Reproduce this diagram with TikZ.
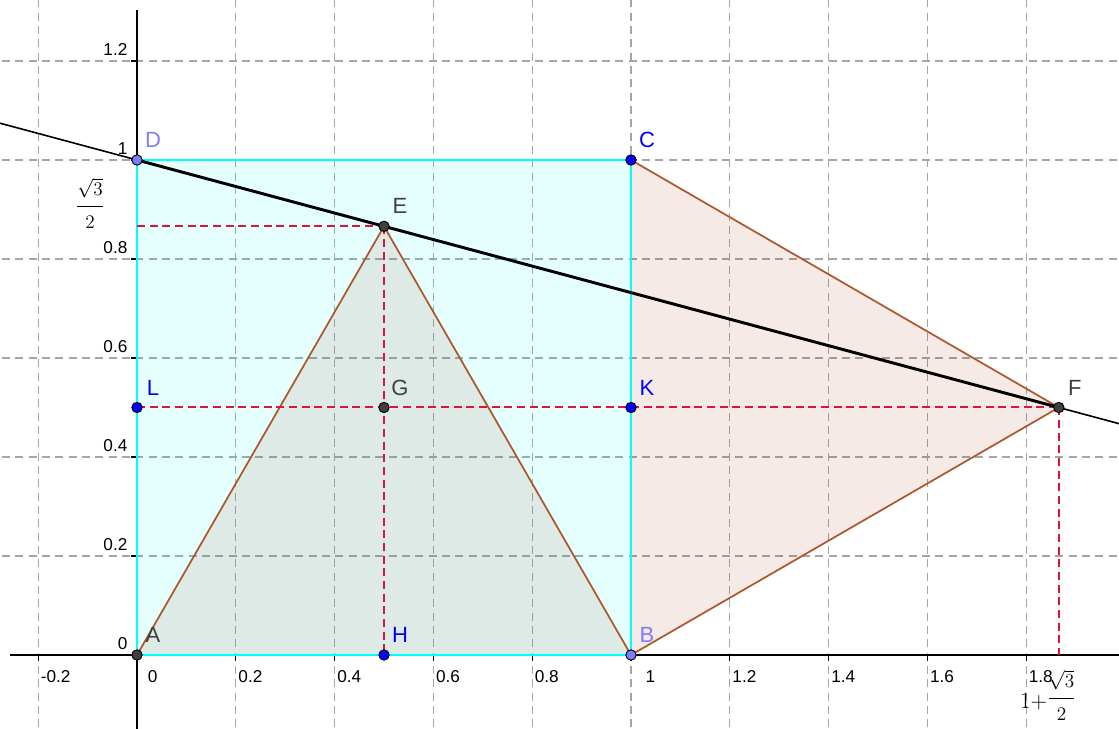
\documentclass[tikz,border=0pt]{standalone}
\usepackage{amsmath}
\usepackage{amssymb}
\usepackage{fontspec}
\setsansfont{Liberation Sans}
\usepackage{xcolor}
\usepackage{tikz}
\definecolor{ggcyan}{RGB}{0,255,255}
\definecolor{ggbrown}{RGB}{153,51,0}
\definecolor{ggedge}{RGB}{172,88,42}
\definecolor{ggred}{RGB}{220,20,60}
\definecolor{gggrid}{RGB}{165,165,165}
\definecolor{ggblue}{RGB}{0,0,255}
\definecolor{gglight}{RGB}{125,125,255}
\definecolor{ggdark}{RGB}{64,64,64}
\tikzstyle{gridline} = [draw=gggrid, line width=0.9pt, dash pattern=on 6pt off 4pt]
\tikzstyle{axisline} = [draw=black, line width=1.3pt]
\tikzstyle{redline} = [draw=ggred, line width=1.5pt, dash pattern=on 6pt off 3.5pt]
\tikzstyle{brownedge} = [draw=ggedge, line width=1.3pt]
\tikzstyle{cyanedge} = [draw=ggcyan, line width=1.4pt]
\tikzstyle{ticklab} = [font=\sffamily\fontsize{12.9}{14}\selectfont, inner sep=0pt]
\tikzstyle{xlab} = [ticklab, anchor=base west, xshift=1.8pt, yshift=-20.3pt]
\tikzstyle{ylab} = [ticklab, anchor=base east, xshift=-7pt, yshift=3.8pt]
\tikzstyle{fraclab} = [inner sep=0pt, font=\fontsize{15}{17}\selectfont]
\tikzstyle{ptlab} = [font=\sffamily\fontsize{16.5}{18}\selectfont, inner sep=0pt, xshift=12pt, yshift=15pt]
\tikzstyle{ptblue} = [fill=ggblue, draw=black, line width=0.7pt]
\tikzstyle{ptlight} = [fill=gglight, draw=black, line width=0.7pt]
\tikzstyle{ptdark} = [fill=ggdark, draw=black, line width=0.7pt]
\newcommand{\halfroot}{\dfrac{\sqrt{3}\rule[-6pt]{0pt}{6pt}}{\rule{0pt}{14.3pt}2}}

\begin{document}
\begin{tikzpicture}[x=370.5pt, y=371.25pt]
\useasboundingbox (-0.27733,-0.14949) rectangle (1.98785,1.32323);
\clip (-0.27733,-0.14949) rectangle (1.98785,1.32323);
%
\coordinate (A) at (0,0);
\coordinate (B) at (1,0);
\coordinate (C) at (1,1);
\coordinate (D) at (0,1);
\coordinate (E) at (0.5,0.866025);
\coordinate (F) at (1.866025,0.5);
\coordinate (G) at (0.5,0.5);
\coordinate (H) at (0.5,0);
\coordinate (K) at (1,0.5);
\coordinate (L) at (0,0.5);
\coordinate (Ey) at (0,0.866025);
\coordinate (Fx) at (1.866025,0);
\coordinate (Pl) at (-0.28,1.07503);
\coordinate (Pr) at (2.0,0.464102);
%
\foreach \x in {-0.2,0.2,0.4,0.6,0.8,1,1.2,1.4,1.6,1.8}
  \draw[gridline] (\x,-0.2) -- (\x,1.4);
\foreach \y in {0.2,0.4,0.6,0.8,1,1.2}
  \draw[gridline] (-0.3,\y) -- (2.0,\y);
%
\draw[axisline] (-0.257,0) -- (2.0,0);
\draw[axisline] (0,-0.16) -- (0,1.303);
\foreach \x in {-0.2,0.2,0.4,0.6,0.8,1,1.2,1.4,1.6,1.8}
  \draw[line width=1pt] (\x,0) -- ++(0,-4.5pt);
\foreach \y in {0.2,0.4,0.6,0.8,1,1.2}
  \draw[line width=1pt] (0,\y) -- ++(-4.5pt,0);
%
\node[xlab] (xm2) at (-0.2,0) {-0.2};
\node[xlab, xshift=6.2pt] (x0) at (0,0) {0};
\node[xlab] (x2) at (0.2,0) {0.2};
\node[xlab] (x4) at (0.4,0) {0.4};
\node[xlab] (x6) at (0.6,0) {0.6};
\node[xlab] (x8) at (0.8,0) {0.8};
\node[xlab, xshift=9pt] (x10) at (1,0) {1};
\node[xlab] (x12) at (1.2,0) {1.2};
\node[xlab] (x14) at (1.4,0) {1.4};
\node[xlab] (x16) at (1.6,0) {1.6};
\node[xlab] (x18) at (1.8,0) {1.8};
%
\node[ylab] (y0) at (0,0) {0};
\node[ylab] (y2) at (0,0.2) {0.2};
\node[ylab] (y4) at (0,0.4) {0.4};
\node[ylab] (y6) at (0,0.6) {0.6};
\node[ylab] (y8) at (0,0.8) {0.8};
\node[ylab] (y10) at (0,1) {1};
\node[ylab] (y12) at (0,1.2) {1.2};
%
\node[fraclab, anchor=base, yshift=-3.75pt] (sq) at (-0.0951,0.907) {$\halfroot$};
\node[fraclab, anchor=base west] (sqx) at (1.787,-0.1071) {{\fontsize{17}{19}\selectfont$1{+}$}\raisebox{3.5pt}{$\halfroot$}};
%
\fill[ggcyan, fill opacity=0.1] (A) -- (B) -- (C) -- (D) -- cycle;
\fill[ggbrown, fill opacity=0.1] (A) -- (B) -- (E) -- cycle;
\fill[ggbrown, fill opacity=0.1] (B) -- (F) -- (C) -- cycle;
\draw[brownedge] (A) -- (E) -- (B);
\draw[brownedge] (C) -- (F) -- (B);
\draw[cyanedge] (A) -- (B) -- (C) -- (D) -- cycle;
%
\draw[redline] (Ey) -- (E);
\draw[redline] (E) -- (H);
\draw[redline] (L) -- (F);
\draw[redline] (F) -- (Fx);
%
\draw[black, line width=1.2pt] (Pl) -- (Pr);
\draw[black, line width=2.2pt] (D) -- (F);
%
\filldraw[ptdark] (A) circle (3.9pt);
\filldraw[ptlight] (B) circle (3.9pt);
\filldraw[ptblue] (C) circle (3.9pt);
\filldraw[ptlight] (D) circle (3.9pt);
\filldraw[ptdark] (E) circle (3.9pt);
\filldraw[ptdark] (F) circle (3.9pt);
\filldraw[ptdark] (G) circle (3.9pt);
\filldraw[ptblue] (H) circle (3.9pt);
\filldraw[ptblue] (K) circle (3.9pt);
\filldraw[ptblue] (L) circle (3.9pt);
%
\node[ptlab, text=ggdark] (lA) at (A) {A};
\node[ptlab, text=gglight] (lB) at (B) {B};
\node[ptlab, text=ggblue] (lC) at (C) {C};
\node[ptlab, text=gglight] (lD) at (D) {D};
\node[ptlab, text=ggdark] (lE) at (E) {E};
\node[ptlab, text=ggdark] (lF) at (F) {F};
\node[ptlab, text=ggdark] (lG) at (G) {G};
\node[ptlab, text=ggblue] (lH) at (H) {H};
\node[ptlab, text=ggblue] (lK) at (K) {K};
\node[ptlab, text=ggblue] (lL) at (L) {L};
\end{tikzpicture}
\end{document}
